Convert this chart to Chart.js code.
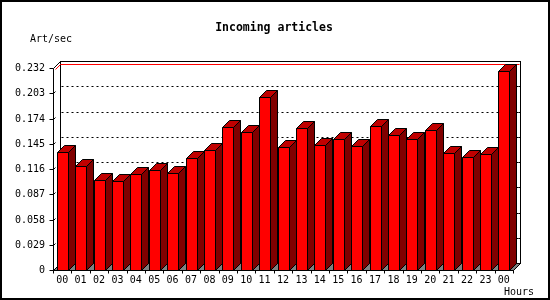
<!DOCTYPE html>
<html>
<head>
<meta charset="utf-8">
<script src="https://cdn.jsdelivr.net/npm/chart.js@4/dist/chart.umd.min.js"></script>
<style>
  body { margin: 0; background: #fff; }
  canvas { display: block; }
</style>
</head>
<body>
<canvas id="chart" width="550" height="300"></canvas>
<script>
// Data
const hours = ["00","01","02","03","04","05","06","07","08","09","10","11",
  "12","13","14","15","16","17","18","19","20","21","22","23","00"];
const artPerSec = [0.135, 0.119, 0.1035, 0.1025, 0.1105, 0.1143, 0.1116, 0.1288,
  0.138, 0.1642, 0.1585, 0.1989, 0.1414, 0.1631, 0.1437, 0.1505, 0.1425, 0.1654,
  0.1554, 0.1505, 0.1608, 0.1345, 0.1299, 0.1334, 0.2286];
const yTicks = [0, 0.029, 0.058, 0.087, 0.116, 0.145, 0.174, 0.203, 0.232];
const yTickLabels = ["0", "0.029", "0.058", "0.087", "0.116", "0.145", "0.174", "0.203", "0.232"];

const DEPTH = 7;
const FONT = "DejaVu Sans Mono";

function poly(ctx, pts, fill) {
  ctx.beginPath();
  ctx.moveTo(pts[0][0] + 0.5, pts[0][1] + 0.5);
  for (let i = 1; i < pts.length; i++) ctx.lineTo(pts[i][0] + 0.5, pts[i][1] + 0.5);
  ctx.closePath();
  if (fill) { ctx.fillStyle = fill; ctx.fill(); }
  ctx.stroke();
}
function line(ctx, x1, y1, x2, y2) {
  ctx.beginPath();
  ctx.moveTo(x1 + 0.5, y1 + 0.5);
  ctx.lineTo(x2 + 0.5, y2 + 0.5);
  ctx.stroke();
}

// 3D box look: back wall, floor, bars with top and side faces
const box3d = {
  id: "box3d",
  beforeDatasetsDraw(chart) {
    const { ctx, chartArea: a, scales: { y } } = chart;
    const L = Math.round(a.left), R = Math.round(a.right);
    const T = Math.round(a.top), B = Math.round(a.bottom);
    const D = DEPTH;
    ctx.save();
    ctx.lineWidth = 1;
    ctx.strokeStyle = "#000";

    // floor
    poly(ctx, [[L, B], [L + D, B - D], [R + D, B - D], [R, B]], "#808080");
    // back wall
    ctx.strokeRect(L + D + 0.5, T - D + 0.5, R - L, B - T);

    // dotted grid on back wall
    ctx.setLineDash([2, 3]);
    yTicks.slice(1, -1).forEach(t => {
      const yy = Math.round(y.getPixelForValue(t)) - D;
      line(ctx, L + D + 1, yy, R + D - 1, yy);
    });
    ctx.setLineDash([]);

    // max value line in red
    const maxY = Math.round(y.getPixelForValue(Math.max(...artPerSec)));
    ctx.strokeStyle = "#f00";
    line(ctx, L + 2, maxY - 2, L + D, maxY - D);
    line(ctx, L + D, maxY - D, R + D - 1, maxY - D);
    ctx.restore();
  },
  afterDatasetsDraw(chart) {
    const { ctx, chartArea: a, scales: { x, y } } = chart;
    const L = Math.round(a.left), R = Math.round(a.right);
    const T = Math.round(a.top), B = Math.round(a.bottom);
    const D = DEPTH;
    ctx.save();
    ctx.lineWidth = 1;
    ctx.strokeStyle = "#000";

    chart.getDatasetMeta(0).data.forEach(bar => {
      const l = Math.round(bar.x - bar.width / 2);
      const r = Math.round(bar.x + bar.width / 2);
      const t = Math.round(bar.y);
      const b = Math.round(bar.base);
      poly(ctx, [[r, b], [r, t], [r + D, t - D], [r + D, b - D]], "#800000");
      poly(ctx, [[l, t], [l + D, t - D], [r + D, t - D], [r, t]], "#c00000");
      poly(ctx, [[l, t], [r, t], [r, b], [l, b]], "#ff0000");
    });

    // left wall edges and axes
    line(ctx, L, T, L, B);
    line(ctx, L, T, L + D, T - D);
    line(ctx, L, B, R, B);
    line(ctx, R, B, R + D, B - D);

    // y ticks
    ctx.fillStyle = "#000";
    ctx.font = "10px " + FONT;
    ctx.textAlign = "right";
    ctx.textBaseline = "middle";
    yTicks.forEach((t, i) => {
      const yy = Math.round(y.getPixelForValue(t));
      line(ctx, L - 4, yy, L, yy);
      if (i > 0 && i < yTicks.length - 1) line(ctx, L, yy, L + 2, yy - 2);
      line(ctx, R + D - 2, yy - D, R + D, yy - D);
      ctx.fillText(yTickLabels[i], 45, yy + 0.5);
    });

    // x ticks and labels
    const step = (R - L) / hours.length;
    for (let i = 0; i <= hours.length; i++) {
      const xx = Math.round(L + i * step);
      line(ctx, xx, B, xx, B + 3);
    }
    ctx.textAlign = "center";
    hours.forEach((h, i) => {
      ctx.fillText(h, x.getPixelForValue(i), B + 10);
    });

    // titles
    ctx.textAlign = "right";
    ctx.fillText("Hours", 534, 292);
    ctx.textAlign = "left";
    ctx.fillText("Art/sec", 30, 39);
    ctx.textAlign = "center";
    ctx.font = "bold 11.5px " + FONT;
    ctx.fillText("Incoming articles", 274, 28);

    // outer frame
    ctx.lineWidth = 2;
    ctx.strokeRect(1, 1, 548, 298);
    ctx.restore();
  }
};

new Chart(document.getElementById("chart").getContext("2d"), {
  type: "bar",
  data: {
    labels: hours,
    datasets: [{
      label: "Incoming articles",
      data: artPerSec,
      backgroundColor: "rgba(0,0,0,0)",
      borderWidth: 0,
      barThickness: 11
    }]
  },
  options: {
    responsive: false,
    animation: false,
    layout: { padding: { left: 53, right: 37, top: 68, bottom: 30 } },
    scales: {
      x: { display: false },
      y: { display: false, min: 0, max: 0.232 }
    },
    plugins: {
      legend: { display: false },
      tooltip: { enabled: false }
    }
  },
  plugins: [box3d]
});
</script>
</body>
</html>
